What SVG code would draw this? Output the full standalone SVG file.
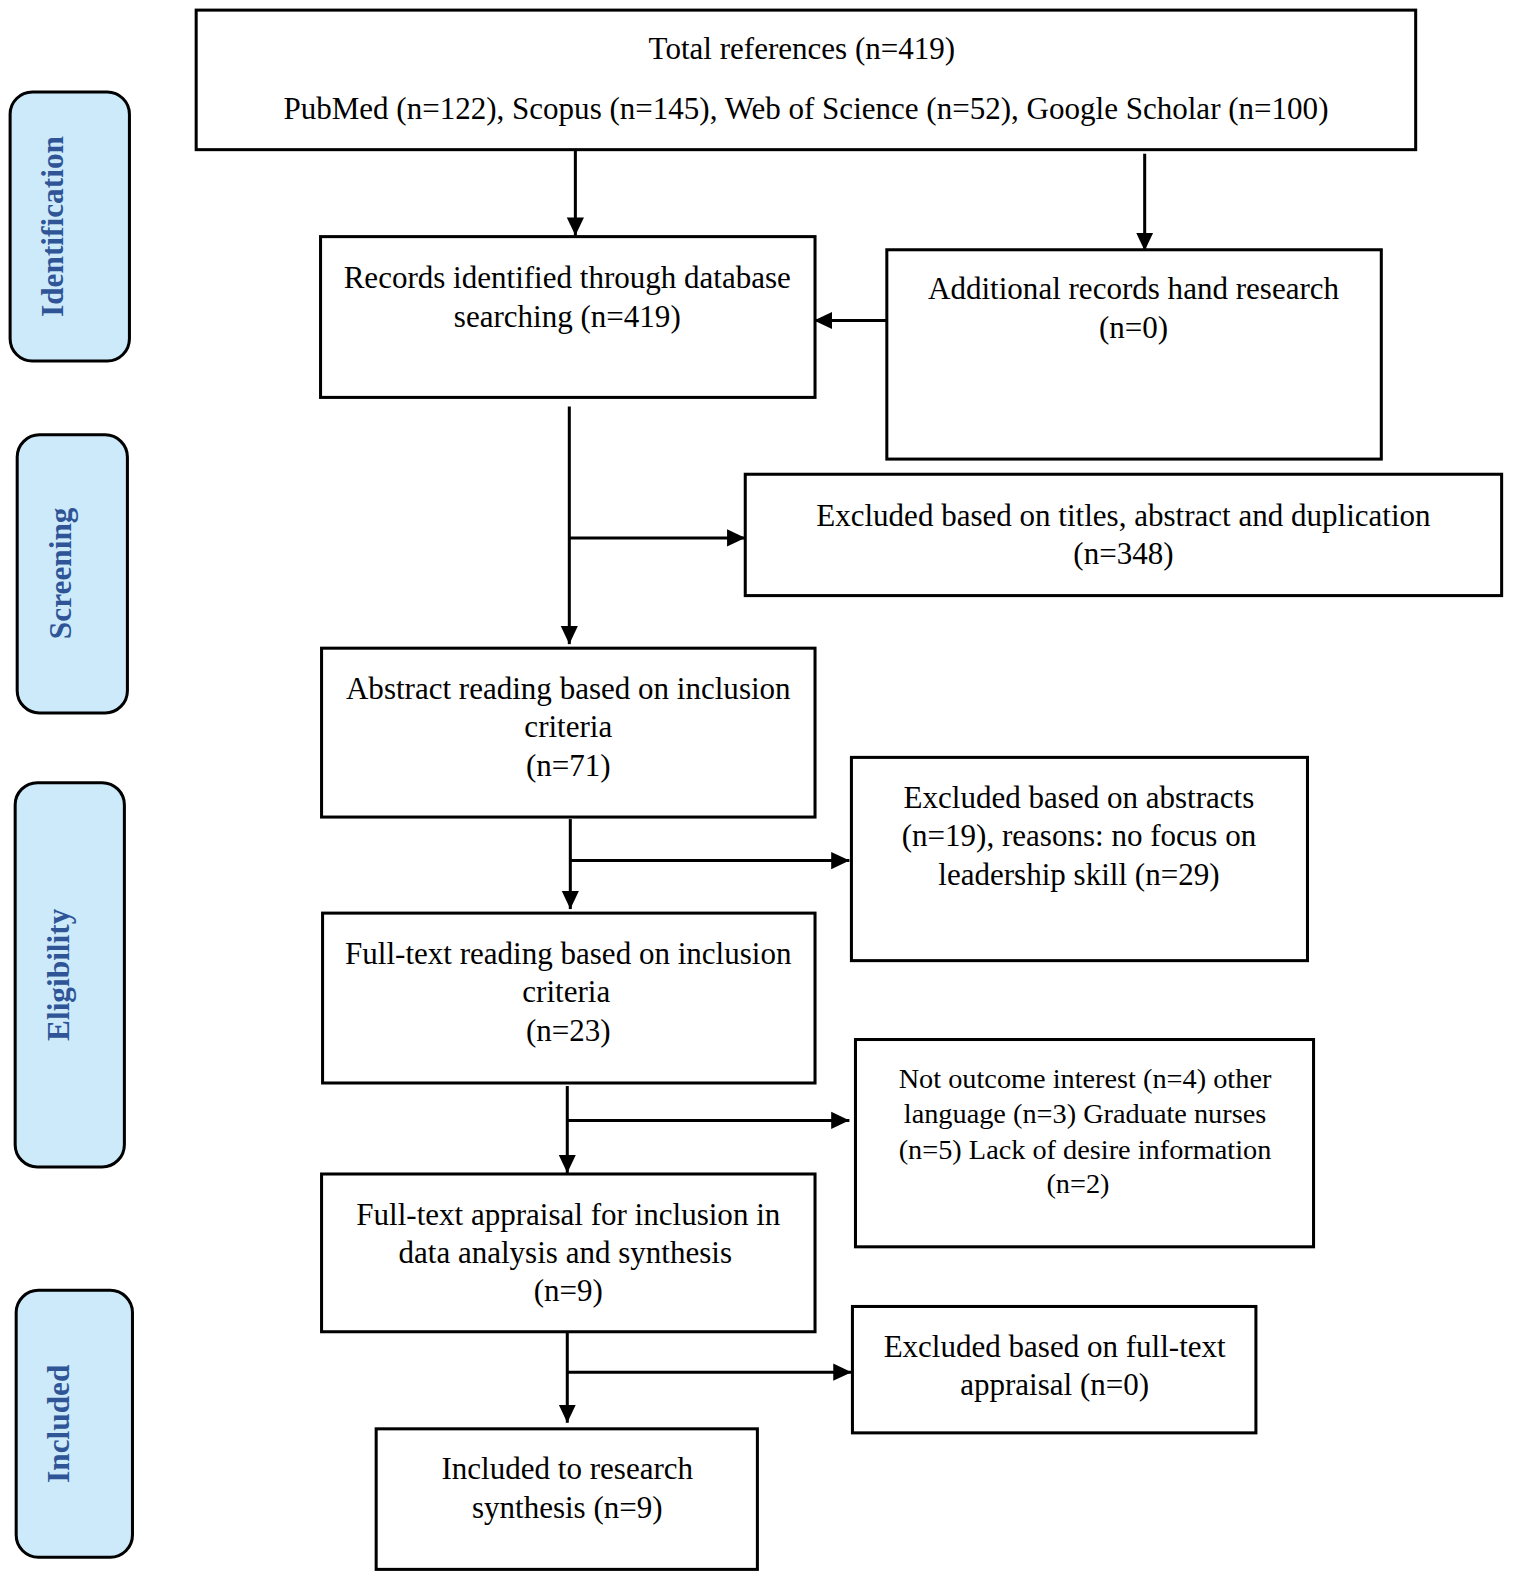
<svg xmlns="http://www.w3.org/2000/svg" width="1520" height="1586" viewBox="0 0 1520 1586">
<style>
.box{fill:#fff;stroke:#000;stroke-width:3}
.stage{fill:#cdeafb;stroke:#000;stroke-width:3}
.t{font-family:"Liberation Serif","Times New Roman",serif;font-size:30.7px;fill:#000;text-anchor:middle}
.s{font-size:28px}
.lab{font-family:"Liberation Serif","Times New Roman",serif;font-size:31px;font-weight:bold;fill:#2f5597;text-anchor:middle}
.ln{stroke:#000;stroke-width:3;fill:none}
</style>
<defs>
<marker id="a" viewBox="0 0 18 18" refX="18" refY="9" markerWidth="18" markerHeight="18" markerUnits="userSpaceOnUse" orient="auto">
<path d="M0,0.5 L18,9 L0,17.5 Z" fill="#000"/>
</marker>
</defs>
<rect width="1520" height="1586" fill="#fff"/>
<g transform="scale(1.0112)">

<g id="stage-identification"><rect class="stage" x="10" y="91" width="118" height="266" rx="22"/><text class="lab" transform="translate(62,224) rotate(-90)">Identification</text></g>
<g id="stage-screening"><rect class="stage" x="17" y="430" width="109" height="275" rx="22"/><text class="lab" transform="translate(70,567) rotate(-90)">Screening</text></g>
<g id="stage-eligibility"><rect class="stage" x="15" y="774" width="108" height="380" rx="22"/><text class="lab" transform="translate(68,964) rotate(-90)">Eligibility</text></g>
<g id="stage-included"><rect class="stage" x="16" y="1276" width="115" height="264" rx="22"/><text class="lab" transform="translate(68,1408) rotate(-90)">Included</text></g>

<g id="connectors">
<line class="ln" x1="569" y1="145" x2="569" y2="233" marker-end="url(#a)"/>
<line class="ln" x1="1132" y1="152" x2="1132" y2="248" marker-end="url(#a)"/>
<line class="ln" x1="877" y1="317" x2="805" y2="317" marker-end="url(#a)"/>
<line class="ln" x1="563" y1="402" x2="563" y2="637" marker-end="url(#a)"/>
<line class="ln" x1="563" y1="532" x2="737" y2="532" marker-end="url(#a)"/>
<line class="ln" x1="564" y1="810" x2="564" y2="899" marker-end="url(#a)"/>
<line class="ln" x1="564" y1="851" x2="840" y2="851" marker-end="url(#a)"/>
<line class="ln" x1="561" y1="1074" x2="561" y2="1160" marker-end="url(#a)"/>
<line class="ln" x1="561" y1="1108" x2="840" y2="1108" marker-end="url(#a)"/>
<line class="ln" x1="561" y1="1318" x2="561" y2="1407" marker-end="url(#a)"/>
<line class="ln" x1="561" y1="1357" x2="842" y2="1357" marker-end="url(#a)"/>
</g>

<g id="total">
<rect class="box" x="194" y="10" width="1206" height="138"/>
<text class="t" x="793" y="58">Total references (n=419)</text>
<text class="t" x="797" y="118">PubMed (n=122), Scopus (n=145), Web of Science (n=52), Google Scholar (n=100)</text>
</g>
<g id="records">
<rect class="box" x="317" y="234" width="489" height="159"/>
<text class="t" x="561" y="285">Records identified through database</text>
<text class="t" x="561" y="323">searching (n=419)</text>
</g>
<g id="additional">
<rect class="box" x="877" y="247" width="489" height="207"/>
<text class="t" x="1121" y="296">Additional records hand research</text>
<text class="t" x="1121" y="334">(n=0)</text>
</g>
<g id="excluded-titles">
<rect class="box" x="737" y="469" width="748" height="120"/>
<text class="t" x="1111" y="520">Excluded based on titles, abstract and duplication</text>
<text class="t" x="1111" y="558">(n=348)</text>
</g>
<g id="abstract-reading">
<rect class="box" x="318" y="641" width="488" height="167"/>
<text class="t" x="562" y="691">Abstract reading based on inclusion</text>
<text class="t" x="562" y="729">criteria</text>
<text class="t" x="562" y="767">(n=71)</text>
</g>
<g id="excluded-abstracts">
<rect class="box" x="842" y="749" width="451" height="201"/>
<text class="t" x="1067" y="799">Excluded based on abstracts</text>
<text class="t" x="1067" y="837">(n=19), reasons: no focus on</text>
<text class="t" x="1067" y="875">leadership skill (n=29)</text>
</g>
<g id="fulltext-reading">
<rect class="box" x="319" y="903" width="487" height="168"/>
<text class="t" x="562" y="953">Full-text reading based on inclusion</text>
<text class="t" x="560" y="991">criteria</text>
<text class="t" x="562" y="1029">(n=23)</text>
</g>
<g id="not-outcome">
<rect class="box" x="846" y="1028" width="453" height="205"/>
<text class="t s" x="1073" y="1076">Not outcome interest (n=4) other</text>
<text class="t s" x="1073" y="1111">language (n=3) Graduate nurses</text>
<text class="t s" x="1073" y="1146">(n=5) Lack of desire information</text>
<text class="t s" x="1066" y="1180">(n=2)</text>
</g>
<g id="fulltext-appraisal">
<rect class="box" x="318" y="1161" width="488" height="156"/>
<text class="t" x="562" y="1211">Full-text appraisal for inclusion in</text>
<text class="t" x="559" y="1249">data analysis and synthesis</text>
<text class="t" x="562" y="1287">(n=9)</text>
</g>
<g id="excluded-fulltext">
<rect class="box" x="843" y="1292" width="399" height="125"/>
<text class="t" x="1043" y="1342">Excluded based on full-text</text>
<text class="t" x="1043" y="1380">appraisal (n=0)</text>
</g>
<g id="included">
<rect class="box" x="372" y="1413" width="377" height="139"/>
<text class="t" x="561" y="1463">Included to research</text>
<text class="t" x="561" y="1501">synthesis (n=9)</text>
</g>
</g>
</svg>
